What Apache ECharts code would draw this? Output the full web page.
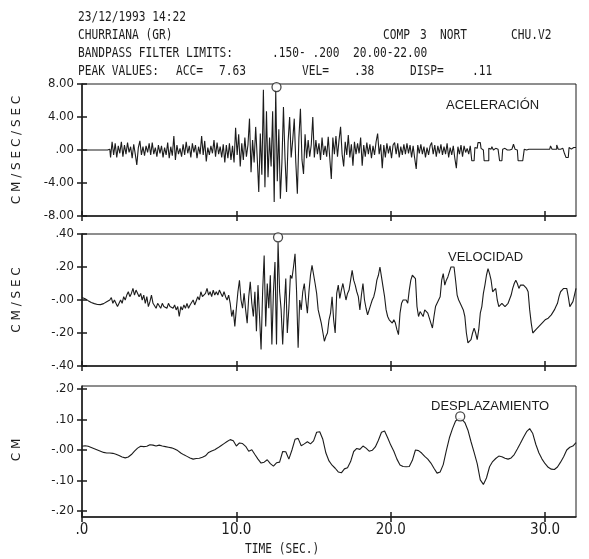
<!DOCTYPE html>
<html>
<head>
<meta charset="utf-8">
<script src="https://cdn.jsdelivr.net/npm/echarts@6/dist/echarts.min.js"></script>
<style>
  html, body { margin: 0; padding: 0; background: #fff; }
  #chart { width: 589px; height: 559px; }
</style>
</head>
<body>
<div id="chart"></div>
<script>
// ---------------- DATA ----------------
const timeTicks = [0, 10, 20, 30];
const accTicks = [-8, -4, 0, 4, 8];
const velTicks = [-0.4, -0.2, 0, 0.2, 0.4];
const dispTicks = [-0.2, -0.1, 0, 0.1, 0.2];

const accStep = 0.1;   // s
const accValues = [
  0,0,0,0,0,0,0,0,0,0,
  0,0,0,0,0,0,0,0,0.1,-0.9,
  1.0,-0.6,0.8,-0.9,0.5,-0.4,1.0,-0.8,0.6,-0.5,
  0.9,-0.3,0.4,-1.0,0.7,-0.5,-1.8,0.3,1.1,-0.6,
  0.4,-0.7,0.5,-0.3,0.8,-0.6,0.9,-0.5,0.3,-0.8,
  0.6,-0.4,0.5,-0.9,0.3,-0.6,0.9,-1.0,0.4,-0.7,
  1.7,-1.2,0.6,-0.5,0.2,-0.8,0.7,-0.6,1.0,-0.4,
  0.5,-0.9,0.8,-0.3,0.6,-1.0,0.4,-0.5,1.7,-0.6,
  1.1,-1.4,0.3,-0.6,0.5,-0.4,1.2,-0.8,0.9,-0.5,
  0.4,-0.9,0.7,-1.5,0.6,-1.0,0.8,-1.2,0.5,-1.5,
  2.7,-0.6,1.9,-2.0,0.8,-1.2,1.5,-0.8,0.6,3.8,
  -2.7,1.2,-1.5,2.8,-0.9,-5.1,2.0,-3.0,7.3,-4.5,
  4.7,-3.3,1.5,-2.0,4.7,-6.3,7.2,-3.8,2.5,-5.9,
  -1.5,5.2,-1.0,-5.1,1.0,4.0,-0.9,1.2,3.8,-1.5,
  -5.3,1.5,5.0,-1.2,-2.9,1.9,-1.0,1.2,-0.8,0.6,
  4.0,-0.9,1.2,-0.5,0.8,-1.2,1.5,-0.6,0.5,-0.8,
  1.6,-1.0,-3.5,1.5,-0.5,1.7,-0.8,1.2,2.8,-0.5,
  -2.0,1.0,-0.6,1.8,-0.9,0.7,-1.9,1.0,-0.5,0.8,
  -0.4,1.5,-1.9,0.6,-0.8,0.9,-0.5,0.7,-1.0,0.5,
  -0.6,1.0,2.0,-0.5,0.7,-2.2,0.6,-0.9,0.8,-0.4,
  0.5,-1.0,0.6,0.9,-0.5,0.8,-0.9,0.4,-0.6,0.7,
  -0.5,0.8,-0.4,0.6,-0.9,0.5,-1.0,-2.3,0.6,-0.4,
  0.7,-0.5,0.4,-0.9,0.3,-0.6,0.5,0.9,-0.5,0.6,
  -0.8,0.5,-0.4,0.7,-0.6,0.4,-0.5,0.8,-0.9,0.3,
  -0.6,0.5,-1.0,-2.2,0.4,-0.5,0.6,-0.8,0.5,-0.3,
  0.2,-0.5,0.5,-1.3,-1.3,0.3,0.2,0.9,0.9,0.2,
  0.0,-1.3,-1.3,-1.3,0.2,0.1,0.4,0.0,0.2,0.1,
  0.0,-1.3,-1.3,0.1,0.2,0.0,0.1,0.0,0.1,0.0,
  0.7,0.1,0.0,-1.3,-1.3,-1.3,-1.3,0.1,0.0,0.1,
  0.1,0.1,0.1,0.1,0.1,0.1,0.1,0.1,0.1,0.1,
  0.1,0.1,0.1,0.1,0.5,0.1,0.1,0.1,0.6,0.1,
  0.1,0.2,0.0,-0.4,-0.9,-0.9,0.3,0.1,0.3,0.2,
  0.3
];

const velStep = 0.1;   // s
const velValues = [
  0.015,0.012,0.008,0.002,-0.004,-0.010,-0.015,-0.019,-0.022,-0.025,
  -0.027,-0.028,-0.028,-0.026,-0.022,-0.017,-0.011,-0.005,0.0,0.015,
  -0.02,0.0,-0.01,-0.04,-0.05,0.0,-0.02,0.02,0.0,0.03,
  0.05,0.02,0.04,0.07,0.03,0.06,0.07,0.02,0.04,0.0,
  0.03,-0.02,0.02,-0.04,-0.01,0.03,-0.02,-0.03,-0.05,-0.02,
  -0.03,-0.05,-0.02,-0.04,-0.03,-0.05,-0.02,-0.04,-0.03,-0.05,
  -0.03,-0.06,-0.04,-0.10,-0.04,-0.06,-0.03,-0.05,-0.02,-0.05,
  -0.03,-0.04,0.0,-0.03,-0.02,0.02,0.0,0.05,0.02,0.01,
  0.04,0.07,0.03,0.05,0.02,0.06,0.03,0.05,0.03,0.06,
  0.04,0.02,0.05,0.02,0.0,0.03,-0.02,-0.10,-0.06,-0.16,
  -0.05,0.05,0.12,0.0,-0.05,0.04,-0.06,-0.14,0.02,0.11,
  -0.02,-0.10,0.05,-0.19,0.09,-0.10,-0.30,0.05,0.27,-0.16,
  0.10,-0.05,0.15,-0.27,0.05,0.23,-0.27,0.35,0.05,-0.06,
  -0.27,-0.05,0.13,-0.20,-0.05,0.15,0.13,0.20,0.28,0.05,
  -0.29,0.0,-0.06,0.05,0.10,0.0,-0.08,0.05,0.15,0.21,
  0.21,0.10,0.04,-0.06,-0.10,-0.14,-0.13,-0.25,-0.22,-0.20,
  -0.12,-0.08,0.02,-0.12,-0.20,0.04,0.09,0.01,0.06,0.10,
  0.10,0.0,0.04,0.06,0.12,0.18,0.12,0.09,0.05,0.02,
  -0.06,0.03,0.10,0.0,-0.05,-0.09,-0.06,-0.03,0.0,0.02,
  0.06,0.12,0.15,0.20,0.14,0.08,0.02,-0.06,-0.10,-0.12,
  -0.13,-0.14,-0.12,-0.14,-0.18,-0.21,-0.08,-0.02,0.0,0.01,
  0.0,-0.02,0.06,0.12,0.15,0.14,0.13,-0.04,-0.10,-0.07,
  -0.06,-0.10,-0.06,-0.05,-0.08,-0.11,-0.14,-0.17,-0.10,-0.04,
  -0.03,0.0,0.02,0.12,0.16,0.09,0.12,0.14,0.17,0.20,
  0.20,0.20,0.12,0.03,0.0,-0.02,-0.03,-0.06,-0.10,-0.20,
  -0.26,-0.25,-0.24,-0.20,-0.17,-0.20,-0.24,-0.18,-0.08,-0.04,
  0.04,0.09,0.15,0.19,0.16,0.12,0.05,0.06,0.07,0.0,
  -0.04,-0.03,-0.02,-0.03,-0.04,-0.03,-0.02,-0.02,0.03,0.07,
  0.10,0.12,0.10,0.07,0.09,0.10,0.09,0.09,0.07,0.05,
  -0.06,-0.14,-0.20,-0.19,-0.18,-0.17,-0.16,-0.15,-0.14,-0.13,
  -0.12,-0.12,-0.11,-0.10,-0.09,-0.08,-0.06,-0.04,-0.02,0.02,
  0.05,0.06,0.07,0.08,0.07,0.02,-0.04,-0.03,-0.01,0.03,
  0.07
];

const dispStep = 0.2;  // s
const dispValues = [
  0.012,0.014,0.012,0.008,0.004,0.0,-0.004,-0.008,-0.010,-0.010,
  -0.011,-0.014,-0.018,-0.023,-0.026,-0.023,-0.015,-0.004,0.006,0.012,
  0.011,0.012,0.017,0.016,0.013,0.016,0.013,0.011,0.009,0.007,
  0.003,-0.002,-0.010,-0.016,-0.021,-0.026,-0.030,-0.028,-0.027,-0.024,
  -0.019,-0.008,-0.003,0.001,0.007,0.014,0.021,0.028,0.034,0.030,
  0.013,0.023,0.021,0.012,-0.004,0.001,-0.015,-0.030,-0.043,-0.040,
  -0.032,-0.045,-0.053,-0.042,-0.040,-0.005,-0.006,-0.030,0.0,0.035,
  0.038,0.014,0.020,0.027,0.020,0.030,0.058,0.060,0.035,-0.010,
  -0.036,-0.050,-0.060,-0.072,-0.075,-0.062,-0.058,-0.038,-0.005,0.005,
  0.002,0.013,0.006,-0.004,-0.001,0.010,0.032,0.058,0.062,0.040,
  0.016,-0.004,-0.030,-0.049,-0.054,-0.055,-0.054,-0.034,0.000,-0.002,
  -0.010,-0.021,-0.030,-0.043,-0.060,-0.076,-0.072,-0.048,-0.002,0.040,
  0.070,0.095,0.103,0.101,0.090,0.065,0.027,-0.008,-0.045,-0.098,
  -0.113,-0.092,-0.055,-0.038,-0.028,-0.020,-0.022,-0.027,-0.030,-0.026,
  -0.015,0.003,0.022,0.042,0.060,0.070,0.054,0.018,-0.010,-0.030,
  -0.045,-0.057,-0.063,-0.064,-0.056,-0.040,-0.022,0.000,0.009,0.013,
  0.024
];

// peak markers [time, value]
const accPeak = [12.6, 7.63];
const velPeak = [12.7, 0.38];
const dispPeak = [24.5, 0.11];

// ---------------- HELPERS ----------------
const toPairs = (vals, step) => vals.map((v, i) => [+(i * step).toFixed(2), v]);
const INK = '#1c1c1c';
const TICK_FONT = "'Liberation Sans Narrow', 'DejaVu Sans Condensed', 'Roboto Condensed', sans-serif";
const HEAD_FONT = "'DejaVu Sans Mono', 'Liberation Mono', monospace";

const fmtAcc = v => (Math.abs(v) < 1e-9 ? '.00' : v.toFixed(2));
const fmtSmall = v => {
  if (Math.abs(v) < 1e-9) return '-.00';
  return (v < 0 ? '-' : '') + Math.abs(v).toFixed(2).replace(/^0/, '');
};
const fmtTime = v => (v === 0 ? '.0' : v.toFixed(1));

const grids = [
  { left: 82, top: 84, width: 494, height: 132 },
  { left: 82, top: 234, width: 494, height: 132 },
  { left: 82, top: 386, width: 494, height: 131 }
];

const yConf = [
  { min: -8, max: 8, ticks: accTicks, fmt: fmtAcc },
  { min: -0.4, max: 0.4, ticks: velTicks, fmt: fmtSmall },
  { min: -0.22, max: 0.21, ticks: dispTicks, fmt: fmtSmall }
];

const xAxes = [], yAxes = [];
grids.forEach((g, i) => {
  xAxes.push({
    type: 'value', gridIndex: i, min: 0, max: 32, position: 'bottom',
    axisLine: { onZero: false, lineStyle: { color: INK, width: 1.5 } },
    axisTick: { show: true, inside: false, length: 5, customValues: timeTicks, lineStyle: { color: INK, width: 1.5 } },
    axisLabel: { show: i === 2, customValues: timeTicks, formatter: fmtTime, color: INK,
                 fontFamily: TICK_FONT, fontSize: 15, margin: 6 },
    splitLine: { show: false }
  });
  xAxes.push({
    type: 'value', gridIndex: i, min: 0, max: 32, position: 'bottom',
    axisLine: { show: false, onZero: false },
    axisTick: { show: true, inside: true, length: 5, customValues: timeTicks, lineStyle: { color: INK, width: 1.5 } },
    axisLabel: { show: false },
    splitLine: { show: false }
  });
  const c = yConf[i];
  yAxes.push({
    type: 'value', gridIndex: i, min: c.min, max: c.max, position: 'left',
    axisLine: { show: true, onZero: false, lineStyle: { color: INK, width: 1.5 } },
    axisTick: { show: true, inside: false, length: 5, customValues: c.ticks, lineStyle: { color: INK, width: 1.5 } },
    axisLabel: { show: true, customValues: c.ticks, formatter: c.fmt, color: INK,
                 fontFamily: TICK_FONT, fontSize: 13, margin: 8 },
    splitLine: { show: false }
  });
  yAxes.push({
    type: 'value', gridIndex: i, min: c.min, max: c.max, position: 'left',
    axisLine: { show: false, onZero: false },
    axisTick: { show: true, inside: true, length: 5, customValues: c.ticks, lineStyle: { color: INK, width: 1.5 } },
    axisLabel: { show: false },
    splitLine: { show: false }
  });
});

const lineSeries = (data, i, step) => ({
  type: 'line', xAxisIndex: 2 * i, yAxisIndex: 2 * i, data,
  symbol: 'none', smooth: false, clip: true, step: step || false,
  lineStyle: { color: INK, width: 1.1 }, z: 2, silent: true
});
const peakSeries = (pt, i) => ({
  type: 'scatter', xAxisIndex: 2 * i, yAxisIndex: 2 * i, data: [pt],
  symbol: 'circle', symbolSize: 9,
  itemStyle: { color: '#fff', borderColor: INK, borderWidth: 1.3 }, z: 5, silent: true
});

const headerPieces = [
  ['23/12/1993 14:22', 78, 17],
  ['CHURRIANA (GR)', 78, 35], ['COMP', 383, 35], ['3', 420, 35], ['NORT', 440, 35], ['CHU.V2', 511, 35],
  ['BANDPASS FILTER LIMITS:', 78, 53], ['.150- .200', 272, 53], ['20.00-22.00', 353, 53],
  ['PEAK VALUES:', 78, 71], ['ACC=', 176, 71], ['7.63', 219, 71], ['VEL=', 302, 71],
  ['.38', 354, 71], ['DISP=', 410, 71], ['.11', 472, 71]
];
const graphics = headerPieces.map(([t, x, y]) => ({
  type: 'text', x, y, scaleX: 0.8, silent: true,
  style: { text: t, fill: INK, font: "14px " + HEAD_FONT, verticalAlign: 'middle', align: 'left' }
}));
[['ACELERACIÓN', 446, 105], ['VELOCIDAD', 448, 257], ['DESPLAZAMIENTO', 431, 406]].forEach(([t, x, y]) => {
  graphics.push({ type: 'text', x, y, silent: true,
    style: { text: t, fill: INK, font: "13px 'Liberation Sans', Arial, sans-serif", verticalAlign: 'middle', align: 'left' } });
});
[['C M / S E C / S E C', 150], ['C M / S E C', 300], ['C M', 450]].forEach(([t, y]) => {
  graphics.push({ type: 'text', x: 17, y, rotation: Math.PI / 2, silent: true,
    style: { text: t, fill: INK, font: "12px 'DejaVu Sans', sans-serif", verticalAlign: 'middle', align: 'center' } });
});
graphics.push({ type: 'text', x: 245, y: 549, scaleX: 0.8, silent: true,
  style: { text: 'TIME (SEC.)', fill: INK, font: "14px " + HEAD_FONT, verticalAlign: 'middle', align: 'left' } });

const option = {
  animation: false,
  backgroundColor: '#fff',
  grid: grids.map(g => Object.assign({ show: true, borderColor: INK, borderWidth: 1, backgroundColor: 'transparent' }, g)),
  xAxis: xAxes,
  yAxis: yAxes,
  series: [
    lineSeries(toPairs(accValues, accStep), 0, 'middle'),
    lineSeries(toPairs(velValues, velStep), 1),
    lineSeries(toPairs(dispValues, dispStep), 2),
    peakSeries(accPeak, 0),
    peakSeries(velPeak, 1),
    peakSeries(dispPeak, 2)
  ],
  graphic: graphics
};

const chart = echarts.init(document.getElementById('chart'), null, { renderer: 'canvas' });
chart.setOption(option);
</script>
</body>
</html>
